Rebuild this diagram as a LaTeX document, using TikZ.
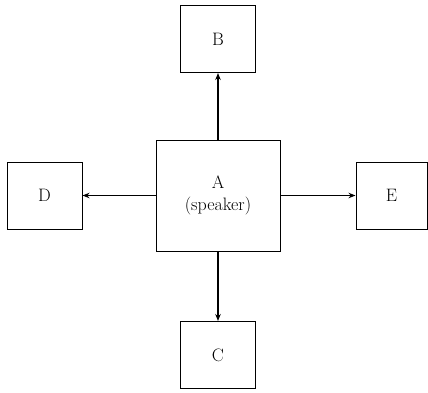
\documentclass[tikz,border=0pt]{standalone}
\usetikzlibrary{arrows.meta}
\begin{document}
\begin{tikzpicture}[x=1pt, y=-1pt, every node/.style={font=\fontsize{18}{22}\selectfont},
	box/.style={draw, rectangle, line width=1pt, inner sep=0pt},
	link/.style={line width=1.1pt, -{Stealth[length=7pt, width=5.5pt]}}]

\useasboundingbox (0,0) rectangle (428,392);

\node[box, minimum width = 124pt, minimum height = 111pt, align=center] (A) at (218, 195.5) {A\\(speaker)};

\foreach \n/\x/\y/\w in {B/218/39/75, C/218/355/75, D/44.5/195.5/75, E/391.5/195.5/71}
	\node[box, minimum width = \w pt, minimum height = 67pt] (\n) at (\x, \y) {\n};

\foreach \n in {B, C, D, E}
	\draw[link] (A) -- (\n);

\end{tikzpicture}
\end{document}
